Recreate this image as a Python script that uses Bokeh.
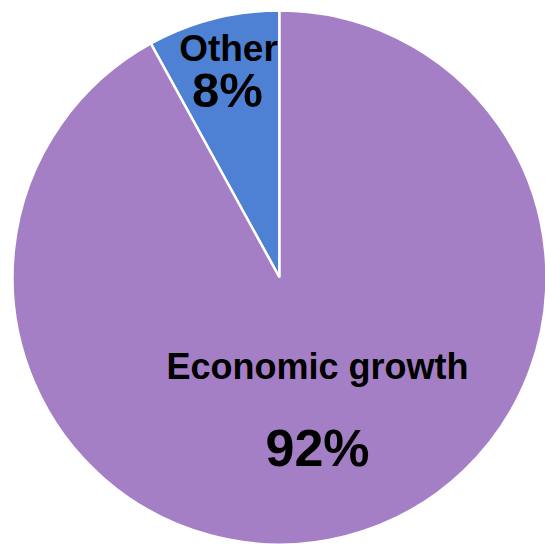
import math
from bokeh.plotting import figure
from bokeh.models import Range1d
from bokeh.core.properties import value
from bokeh.embed import file_html
from bokeh.resources import INLINE

categories = ["Other", "Economic growth"]
shares = [8, 92]
colors = ["#4E81D3", "#A57FC5"]
pct_labels = ["8%", "92%"]

W, H = 545, 544
p = figure(width=W, height=H, output_backend="svg", toolbar_location=None,
           x_range=Range1d(0, W), y_range=Range1d(0, H), min_border=0)
p.axis.visible = False
p.grid.visible = False
p.outline_line_color = None
p.background_fill_color = "white"

cx, cy, r = 279, H - 277, 267
start = math.pi / 2
total = sum(shares)
starts, ends = [], []
a = start
for s in shares:
    starts.append(a)
    a += s / total * 2 * math.pi
    ends.append(a)

p.wedge(x=[cx] * len(shares), y=[cy] * len(shares), radius=r,
        start_angle=starts, end_angle=ends, direction="anticlock",
        fill_color=colors, line_color="white", line_width=2.5)

font = value("Liberation Sans")
# label layout (pixel anchors: x centre, y centre of capitals, font size)
name_pos = [(228, H - 48, "37px"), (317, H - 366, "36px")]
pct_pos = [(227, H - 89, "49px"), (317, H - 447, "52px")]
for i in range(len(categories)):
    x, y, fs = name_pos[i]
    p.text(x=[x], y=[y], text=[categories[i]], text_font=font, text_font_size=fs,
           text_font_style="bold", text_align="center", text_baseline="middle",
           text_color="black")
    x, y, fs = pct_pos[i]
    p.text(x=[x], y=[y], text=[pct_labels[i]], text_font=font, text_font_size=fs,
           text_font_style="bold", text_align="center", text_baseline="middle",
           text_color="black")

open("out.html", "w").write(file_html(p, INLINE))
